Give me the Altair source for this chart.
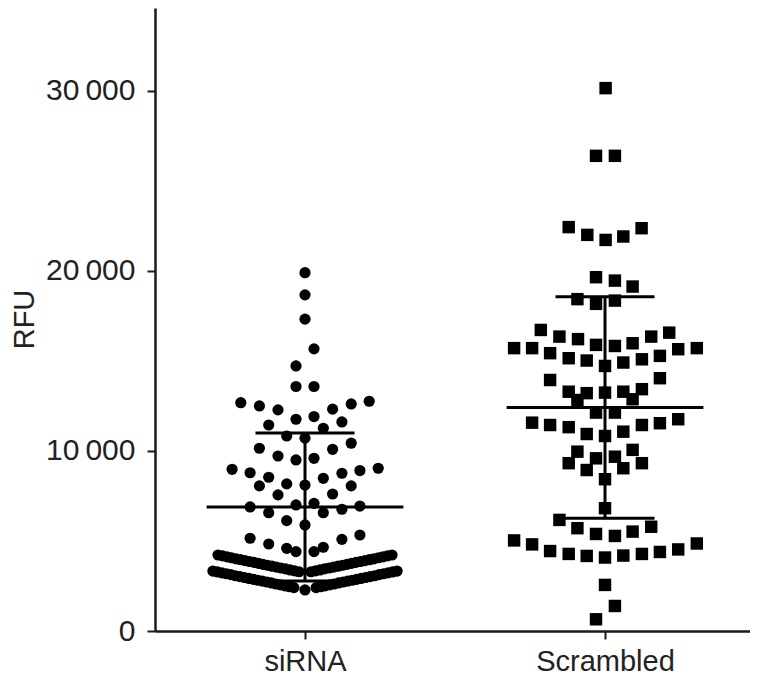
import altair as alt
import pandas as pd

groups = ["siRNA", "Scrambled"]
group_pos = [1, 2]

# siRNA: horizontal offset (in group units) and RFU value
sirna_offset = [0, 0, 0, 0.03, -0.03, -0.03, 0.03,
                -0.214, -0.152, -0.09, 0.092, 0.154, 0.214,
                -0.03, 0.03, 0.123, -0.121, 0.061, -0.061, 0, 0.154, -0.152, 0.092,
                -0.09, -0.03, 0.03, -0.243, -0.183, 0.123, 0.183, 0.244,
                -0.121, 0.061, -0.152, -0.061, 0, 0.154, -0.09, 0.092,
                -0.183, -0.121, -0.03, 0.03, 0.061, 0.123, 0.183, -0.061, 0,
                -0.183, -0.121, -0.061, -0.03, 0.03, 0.061, 0.123, 0.183,
                # dense upper arc
                -0.29, -0.275, -0.26, -0.245, -0.23, -0.215, -0.2, -0.185, -0.17, -0.155,
                -0.14, -0.125, -0.11, -0.095, -0.08, -0.065, -0.05, -0.035, -0.02,
                0.02, 0.035, 0.05, 0.065, 0.08, 0.095, 0.11, 0.125, 0.14, 0.155,
                0.17, 0.185, 0.2, 0.215, 0.23, 0.245, 0.26, 0.275, 0.29,
                # dense lower arc
                -0.307, -0.292, -0.277, -0.262, -0.247, -0.232, -0.217, -0.202, -0.187, -0.172,
                -0.157, -0.142, -0.127, -0.112, -0.097, -0.082, -0.067, -0.052, -0.037,
                0,
                0.037, 0.052, 0.067, 0.082, 0.097, 0.112, 0.127, 0.142, 0.157, 0.172,
                0.187, 0.202, 0.217, 0.232, 0.247, 0.262, 0.277, 0.292, 0.307]
sirna_rfu = [19900, 18670, 17320, 15670, 14720, 13580, 13580,
             12680, 12500, 12280, 12320, 12610, 12760,
             11760, 11910, 11610, 11440, 11260, 10830, 10710, 10430, 10150, 10090,
             9720, 9500, 9590, 8980, 8790, 8760, 8910, 9040,
             8540, 8480, 8060, 8170, 8110, 8060, 7560, 7610,
             6890, 6570, 7000, 7090, 6570, 6760, 6940, 6130, 5890,
             5150, 4830, 4590, 4410, 4410, 4650, 5090, 5330,
             4220, 4170, 4120, 4070, 4010, 3960, 3910, 3860, 3810, 3760,
             3700, 3650, 3600, 3550, 3500, 3450, 3390, 3340, 3290,
             3290, 3340, 3390, 3450, 3500, 3550, 3600, 3650, 3700, 3760,
             3810, 3860, 3910, 3960, 4010, 4070, 4120, 4170, 4220,
             3330, 3280, 3230, 3180, 3130, 3070, 3020, 2970, 2920, 2870,
             2820, 2770, 2720, 2670, 2610, 2560, 2510, 2460, 2410,
             2280,
             2410, 2460, 2510, 2560, 2610, 2670, 2720, 2770, 2820, 2870,
             2920, 2970, 3020, 3070, 3130, 3180, 3230, 3280, 3330]

scr_offset = [0.002, -0.03, 0.033,
              -0.121, -0.059, 0.002, 0.061, 0.122,
              -0.03, 0.033, 0.092,
              -0.092, -0.03, 0.033,
              -0.214, -0.152, -0.09, -0.03, 0.033, 0.092, 0.154, 0.214,
              -0.303, -0.243, 0.244, 0.306,
              -0.183, -0.121, -0.061, 0, 0.061, 0.123, 0.183,
              -0.183, 0.183,
              -0.121, -0.061, 0, 0.061, 0.123,
              -0.092, 0.092,
              -0.03, 0.033,
              -0.243, -0.183, -0.121, -0.061, 0, 0.061, 0.123, 0.183, 0.244,
              -0.092, 0.092, -0.03, 0.033, -0.121, 0.123, -0.061, 0.061, 0,
              0,
              -0.152, -0.092, -0.03, 0.033, 0.092, 0.154,
              -0.303, -0.243, -0.183, -0.121, -0.061, 0, 0.061, 0.123, 0.183, 0.244, 0.306,
              0, 0.033, -0.03]
scr_rfu = [30150, 26390, 26390,
           22430, 22000, 21720, 21910, 22370,
           19650, 19460, 19130,
           18430, 18170, 18350,
           16720, 16350, 16210, 15890, 15830, 15980, 16350, 16570,
           15710, 15710, 15650, 15710,
           15430, 15150, 15020, 14720, 14910, 15090, 15280,
           13940, 14040,
           13290, 13210, 13240, 13290, 13430,
           12830, 12870,
           12130, 12130,
           11570, 11440, 11320, 10940, 10830, 11070, 11440, 11540, 11760,
           9960, 10060, 9590, 9680, 9320, 9320, 8940, 9040, 8430,
           6820,
           6170, 5710, 5390, 5280, 5520, 5790,
           5030, 4810, 4440, 4280, 4170, 4080, 4190, 4280, 4390, 4530, 4860,
           2560, 1390, 650]

means = [6890, 12410]
sd_upper = [11000, 18570]
sd_lower = [2780, 6260]

sir_df = pd.DataFrame({"x": [group_pos[0] + o for o in sirna_offset], "y": sirna_rfu})
scr_df = pd.DataFrame({"x": [group_pos[1] + o for o in scr_offset], "y": scr_rfu})

mean_df = pd.DataFrame({"xa": [p - 0.328 for p in group_pos],
                        "xb": [p + 0.328 for p in group_pos],
                        "v": means})
cap_df = pd.DataFrame({"xa": [p - 0.165 for p in group_pos] * 2,
                       "xb": [p + 0.165 for p in group_pos] * 2,
                       "v": sd_upper + sd_lower})
vert_df = pd.DataFrame({"xa": group_pos, "lo": sd_lower, "hi": sd_upper})

FONT = "Liberation Sans"
INK = "#1a1a1a"

x_scale = alt.Scale(domain=[0.5, 2.4833], nice=False, zero=False)
y_scale = alt.Scale(domain=[0, 34600], nice=False, zero=True)

x_axis = alt.Axis(values=group_pos, title=None, grid=False,
                  labelExpr="datum.value == 1 ? 'siRNA' : 'Scrambled'",
                  labelFont=FONT, labelFontSize=29, labelColor="#222",
                  tickSize=8, tickWidth=2, tickColor=INK, labelPadding=8,
                  domainColor=INK, domainWidth=2.5)
y_axis = alt.Axis(values=[0, 10000, 20000, 30000], title="RFU", grid=False,
                  labelExpr="datum.value == 0 ? '0' : replace(format(datum.value, ','), ',', '\u2009')",
                  labelFont=FONT, labelFontSize=30, labelColor="#222",
                  tickSize=8, tickWidth=2, tickColor=INK, labelPadding=12,
                  domainColor=INK, domainWidth=2.5,
                  titleFont=FONT, titleFontSize=29, titleFontWeight="normal",
                  titleColor="#222", titleAngle=270, titleX=-131, titleY=311,
                  titleAlign="center", titleBaseline="middle")

circles = alt.Chart(sir_df).mark_circle(size=125, color="black", opacity=1).encode(
    x=alt.X("x:Q", scale=x_scale, axis=x_axis),
    y=alt.Y("y:Q", scale=y_scale, axis=y_axis),
)
squares = alt.Chart(scr_df).mark_square(size=155, color="black", opacity=1).encode(
    x=alt.X("x:Q", scale=x_scale, axis=x_axis),
    y=alt.Y("y:Q", scale=y_scale, axis=y_axis),
)
mean_rules = alt.Chart(mean_df).mark_rule(color="black", strokeWidth=3).encode(
    x=alt.X("xa:Q", scale=x_scale, axis=x_axis), x2="xb:Q",
    y=alt.Y("v:Q", scale=y_scale, axis=y_axis),
)
cap_rules = alt.Chart(cap_df).mark_rule(color="black", strokeWidth=3).encode(
    x=alt.X("xa:Q", scale=x_scale, axis=x_axis), x2="xb:Q",
    y=alt.Y("v:Q", scale=y_scale, axis=y_axis),
)
vert_rules = alt.Chart(vert_df).mark_rule(color="black", strokeWidth=3).encode(
    x=alt.X("xa:Q", scale=x_scale, axis=x_axis),
    y=alt.Y("lo:Q", scale=y_scale, axis=y_axis), y2="hi:Q",
)

chart = alt.layer(circles, squares, vert_rules, mean_rules, cap_rules).properties(
    width=595, height=623,
    autosize=alt.AutoSizeParams(type="none"),
    padding={"left": 147, "top": 0, "right": 0, "bottom": 45},
    background="white",
).configure_view(stroke=None)

chart.save("out.html", embed_options={"renderer": "svg", "actions": False})
